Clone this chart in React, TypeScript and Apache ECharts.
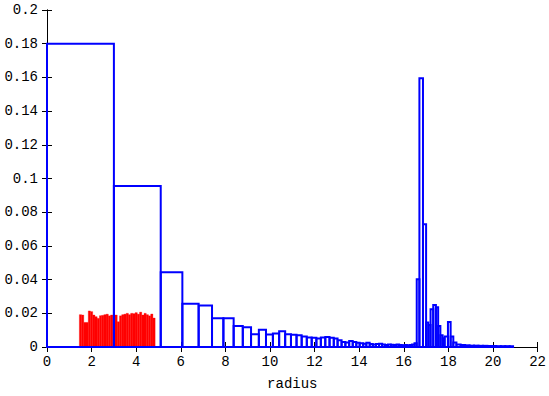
import React, { useEffect, useRef } from "react";
import * as echarts from "echarts";

// Blue histogram: bin edges (radius) and heights
const blueEdges = [
  0, 3.0, 5.1, 6.07, 6.8, 7.4, 7.91, 8.37, 8.78, 9.15,
  9.5, 9.82, 10.13, 10.41, 10.68, 10.94, 11.19, 11.42, 11.65, 11.87,
  12.08, 12.28, 12.48, 12.67, 12.86, 13.03, 13.21, 13.38, 13.55, 13.71,
  13.87, 14.02, 14.18, 14.32, 14.47, 14.61, 14.75, 14.89, 15.03, 15.16,
  15.29, 15.42, 15.54, 15.67, 15.79, 15.91, 16.03, 16.14, 16.26, 16.37,
  16.48, 16.58, 16.7, 16.86, 17.0, 17.1, 17.2, 17.32, 17.44, 17.54,
  17.64, 17.74, 17.83, 17.98, 18.1, 18.22, 18.36, 18.55, 18.75, 18.95,
  19.15, 19.35, 19.55, 19.75, 19.95, 20.15, 20.35, 20.55, 20.75, 20.9,
];
const blueValues = [
  0.18, 0.0955, 0.0444, 0.0257, 0.0246, 0.0171, 0.0171, 0.0124, 0.0117, 0.0076,
  0.0103, 0.0074, 0.008, 0.0094, 0.0076, 0.0072, 0.007, 0.0062, 0.0057, 0.0055,
  0.0051, 0.0057, 0.006, 0.0055, 0.0051, 0.004, 0.003, 0.0027, 0.0035, 0.003,
  0.0025, 0.0022, 0.002, 0.0025, 0.0018, 0.0015, 0.0018, 0.002, 0.0015, 0.0012,
  0.0015, 0.0013, 0.0012, 0.0015, 0.0012, 0.001, 0.0012, 0.001, 0.0012, 0.0015,
  0.0022, 0.0402, 0.1595, 0.0729, 0.0145, 0.013, 0.0224, 0.025, 0.0236, 0.0125,
  0.007, 0.0052, 0.0062, 0.0148, 0.0062, 0.0027, 0.0015, 0.0012, 0.001, 0.0008,
  0.0008, 0.0007, 0.0007, 0.0006, 0.0006, 0.0005, 0.0005, 0.0005, 0.0004,
];

// Red histogram: bin edges and heights
const redEdges = [
  1.45, 1.55, 1.65, 1.75, 1.85, 1.95, 2.05, 2.15, 2.25, 2.35,
  2.45, 2.55, 2.65, 2.75, 2.85, 2.95, 3.05, 3.15, 3.25, 3.35,
  3.45, 3.55, 3.65, 3.75, 3.85, 3.95, 4.05, 4.15, 4.25, 4.35,
  4.45, 4.55, 4.65, 4.75, 4.85,
];
const redValues = [
  0.0192, 0.019, 0.0146, 0.0146, 0.0214, 0.021, 0.019, 0.018, 0.017, 0.0186,
  0.0188, 0.0192, 0.0195, 0.0185, 0.019, 0.0188, 0.019, 0.015, 0.0185, 0.0192,
  0.0195, 0.02, 0.0192, 0.02, 0.0198, 0.0204, 0.0195, 0.0207, 0.019, 0.02,
  0.0192, 0.0185, 0.0196, 0.0172,
];

const xTicks = { min: 0, max: 22, interval: 2 };
const yTicks = { min: 0, max: 0.2, interval: 0.02 };
const xLabel = "radius";

const FONT = "'Liberation Mono', 'DejaVu Sans Mono', monospace";

export default function App() {
  const ref = useRef<HTMLDivElement>(null);
  useEffect(() => {
    if (!ref.current) return;
    const chart = echarts.init(ref.current, undefined, { renderer: "svg" });
    const blueData = blueValues.map((v, i) => [blueEdges[i], blueEdges[i + 1], v]);
    const redData = redValues.map((v, i) => [redEdges[i], redEdges[i + 1], v]);

    const mkRender = (fill: string, stroke: string, lw: number) =>
      (params: any, api: any) => {
        const s = api.coord([api.value(0), api.value(2)]);
        const e = api.coord([api.value(1), 0]);
        return {
          type: "rect",
          shape: { x: s[0], y: s[1], width: e[0] - s[0], height: e[1] - s[1] },
          style: { fill, stroke, lineWidth: lw },
        };
      };

    const axisCommon = {
      axisLine: { show: true, lineStyle: { color: "#000", width: 1 } },
      axisTick: { show: true, inside: true, length: 5, lineStyle: { color: "#000" } },
      splitLine: { show: false },
    };

    chart.setOption({
      animation: false,
      grid: { left: 47, right: 11, top: 10, bottom: 44 },
      xAxis: [
        {
          type: "value",
          position: "bottom",
          ...xTicks,
          ...axisCommon,
          axisLabel: { color: "#000", fontFamily: FONT, fontSize: 14, margin: 8 },
          name: xLabel,
          nameLocation: "middle",
          nameGap: 30,
          nameTextStyle: { color: "#000", fontFamily: FONT, fontSize: 14 },
        },
        {
          type: "value",
          position: "top",
          ...xTicks,
          ...axisCommon,
          axisLabel: { show: false },
        },
      ],
      yAxis: [
        {
          type: "value",
          position: "left",
          ...yTicks,
          ...axisCommon,
          axisLabel: { color: "#000", fontFamily: FONT, fontSize: 14, margin: 9 },
        },
        {
          type: "value",
          position: "right",
          ...yTicks,
          ...axisCommon,
          axisLabel: { show: false },
        },
      ],
      series: [
        {
          type: "custom",
          name: "red",
          xAxisIndex: 0,
          yAxisIndex: 0,
          renderItem: mkRender("#ff0000", "#ff0000", 0.3),
          encode: { x: [0, 1], y: 2 },
          data: redData,
          z: 2,
        },
        {
          type: "custom",
          name: "blue",
          xAxisIndex: 0,
          yAxisIndex: 0,
          renderItem: mkRender("none", "#0000ff", 2),
          encode: { x: [0, 1], y: 2 },
          data: blueData,
          z: 3,
        },
      ],
    });
    return () => chart.dispose();
  }, []);
  return (
    <div
      ref={ref}
      style={{ position: "absolute", left: 0, top: 0, width: 549, height: 396 }}
    />
  );
}
